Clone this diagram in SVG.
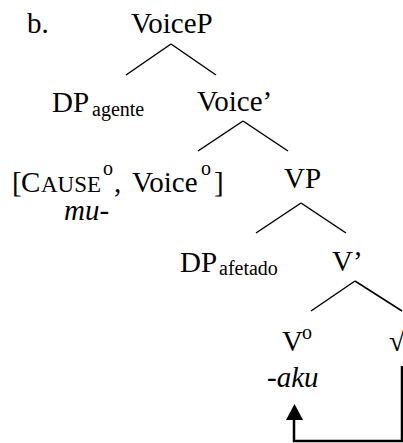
<svg xmlns="http://www.w3.org/2000/svg" width="403" height="443" viewBox="0 0 403 443" font-family="'Liberation Serif', Tinos, 'DejaVu Serif', serif">
<style>
text{font-family:'Liberation Serif',Tinos,'DejaVu Serif',serif;fill:#000}
.n{font-size:29px}
.s{font-size:20px}
.it{font-style:italic}
.br{stroke:#000;stroke-width:1.5;fill:none}
.mv{stroke:#000;stroke-width:2.5;fill:none}
</style>
<text class="n" x="27" y="33">b.</text>
<g id="voiceP"><text class="n" x="131" y="33">VoiceP</text></g>
<g id="dpAgente"><text class="n" x="52" y="112">DP</text><text class="s" x="92" y="116">agente</text></g>
<g id="voiceBar"><text class="n" x="197" y="111">Voice’</text></g>
<g id="cause">
<text class="n" y="192"><tspan x="12">[</tspan><tspan x="21">C</tspan><tspan x="41" style="font-size:23px">AUSE</tspan></text>
<text class="s" x="103" y="175">o</text>
<text class="n" x="114" y="192">,</text>
<text class="n" x="132" y="192">Voice</text>
<text class="s" x="201" y="175">o</text>
<text class="n" x="214" y="192">]</text>
<text class="n it" x="64" y="220">mu-</text>
</g>
<g id="vp"><text class="n" x="284" y="188">VP</text></g>
<g id="dpAfetado"><text class="n" x="180" y="272">DP</text><text class="s" x="219" y="275">afetado</text></g>
<g id="vBar"><text class="n" x="332" y="271">V’</text></g>
<g id="v0"><text class="n" x="282" y="351">V</text><text class="s" x="302" y="339">o</text><text class="n it" x="267" y="387">-aku</text></g>
<g id="root"><text class="n" x="389" y="351">√</text></g>
<g id="connectors">
<path class="br" d="M171,44 L126,75 M171,44 L216,75"/>
<path class="br" d="M243,121 L198,151 M243,121 L288,151"/>
<path class="br" d="M301,203 L256,233 M301,203 L346,233"/>
<path class="br" d="M355,281 L311,311 M355,281 L402,311"/>
<path class="mv" d="M402,366 L402,441 L294,441 L294,419"/>
<polygon points="286,420 303,420 294.5,404" fill="#000"/>
</g>
</svg>
